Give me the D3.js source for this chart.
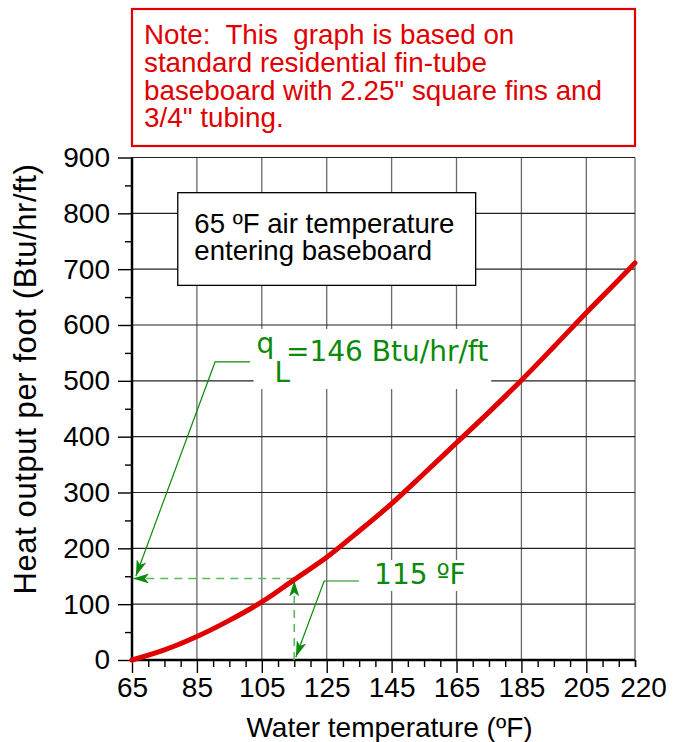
<!DOCTYPE html>
<html>
<head>
<meta charset="utf-8">
<script src="https://cdn.jsdelivr.net/npm/d3@7"></script>
<style>
body { margin: 0; background: #fff; }
svg { display: block; }
</style>
</head>
<body>
<div id="chart"></div>
<script>
// water temperature (F) vs heat output per foot (Btu/hr/ft)
var waterTemp  = [65, 75, 85, 95, 105, 115, 125, 135, 145, 155, 165, 175, 185, 195, 205, 215, 220];
var heatOutput = [0, 18, 42, 71, 104, 144, 184, 231, 280, 334, 389, 444, 501, 561, 622, 681, 711];

var xMajor = [65, 85, 105, 125, 145, 165, 185, 205];
var xLabels = [65, 85, 105, 125, 145, 165, 185, 205, 220];
var yTicks = [0, 100, 200, 300, 400, 500, 600, 700, 800, 900];

var noteLines = ["Note:  This  graph is based on",
                 "standard residential fin-tube",
                 "baseboard with 2.25\" square fins and",
                 "3/4\" tubing."];
var boxLines = ["65 \u00baF air temperature", "entering baseboard"];

var pickTemp = 115, pickQ = 146;

var width = 680, height = 742;
var margin = {top: 157.5, right: 45, bottom: 82, left: 132};

var svg = d3.select("#chart").append("svg")
  .attr("width", width)
  .attr("height", height);

var x = d3.scaleLinear().domain([65, 220]).range([margin.left, width - margin.right]);
var y = d3.scaleLinear().domain([0, 900]).range([height - margin.bottom, margin.top]);

var sans = "'Liberation Sans', Arial, Helvetica, sans-serif";
var green = "#0a8a0a";

// arrow heads
var defs = svg.append("defs");
defs.append("marker")
  .attr("id", "arr")
  .attr("viewBox", "0 0 16 10")
  .attr("refX", 16).attr("refY", 5)
  .attr("markerWidth", 16).attr("markerHeight", 10)
  .attr("markerUnits", "userSpaceOnUse")
  .attr("orient", "auto")
  .append("path").attr("d", "M0,0L16,5L0,10L4,5Z").attr("fill", green);

// grid
var grid = svg.append("g");
grid.selectAll("line.v")
  .data(xMajor.slice(1).concat([220]))
  .enter().append("line")
  .attr("x1", function(d) { return x(d); }).attr("x2", function(d) { return x(d); })
  .attr("y1", y(0)).attr("y2", y(900))
  .attr("stroke", "#6a6a6a").attr("stroke-width", 1.3);
grid.selectAll("line.h")
  .data(yTicks.slice(1))
  .enter().append("line")
  .attr("x1", x(65)).attr("x2", x(220))
  .attr("y1", function(d) { return y(d); }).attr("y2", function(d) { return y(d); })
  .attr("stroke", "#222").attr("stroke-width", 1.2);

// axes
var xAxis = d3.axisBottom(x).tickValues(xLabels).tickSize(13).tickFormat(d3.format("d"));
var gx = svg.append("g").attr("transform", "translate(0," + y(0) + ")").call(xAxis);
var xMinor = d3.axisBottom(x).tickValues(d3.range(70, 221, 5).filter(function(d) { return xMajor.indexOf(d) < 0; }))
  .tickSize(7).tickFormat("");
svg.append("g").attr("transform", "translate(0," + y(0) + ")").call(xMinor)
  .select(".domain").remove();

var yAxis = d3.axisLeft(y).tickValues(yTicks).tickSize(14).tickPadding(8);
var gy = svg.append("g").attr("transform", "translate(" + x(65) + ",0)").call(yAxis);
var yMinor = d3.axisLeft(y).tickValues(d3.range(50, 900, 100)).tickSize(7).tickFormat("");
svg.append("g").attr("transform", "translate(" + x(65) + ",0)").call(yMinor)
  .select(".domain").remove();

[gx, gy].forEach(function(g) {
  g.select(".domain").attr("stroke", "#000").attr("stroke-width", 2.5);
  g.selectAll(".tick text").attr("fill", "#000")
    .style("font-family", sans).style("font-size", "28px");
});
svg.selectAll(".tick line").attr("stroke", "#000").attr("stroke-width", 1.4);
gx.select(".domain").attr("d", "M" + x(65) + ",0H" + x(220));
gy.select(".domain").attr("d", "M0," + y(0) + "V" + y(900));
gx.selectAll(".tick text").attr("dy", "0.95em").attr("y", 10);
gy.selectAll(".tick text").attr("x", -22);
var last = gx.selectAll(".tick").filter(function(d) { return d == 220; });
last.select("line").attr("y2", 7);
last.select("text").attr("x", 8);

// axis titles
svg.append("text")
  .attr("x", (x(65) + x(220)) / 2 + 6)
  .attr("y", 737)
  .attr("text-anchor", "middle")
  .style("font-family", sans).style("font-size", "28px")
  .text("Water temperature (\u00baF)");

svg.append("text")
  .attr("transform", "translate(36,379) rotate(-90)")
  .attr("text-anchor", "middle")
  .style("font-family", sans).style("font-size", "31px")
  .style("letter-spacing", "0.6px")
  .text("Heat output per foot (Btu/hr/ft)");

// note box
svg.append("rect")
  .attr("x", x(65)).attr("y", 9)
  .attr("width", x(220) - x(65)).attr("height", 137)
  .attr("fill", "#fff").attr("stroke", "#e00000").attr("stroke-width", 2.2);
svg.append("g").selectAll("text")
  .data(noteLines).enter().append("text")
  .attr("x", 144)
  .attr("y", function(d, i) { return 44 + i * 27.8; })
  .attr("fill", "#e00000")
  .style("font-family", sans).style("font-size", "27.8px")
  .style("white-space", "pre")
  .text(function(d) { return d; });

// legend-like box
svg.append("rect")
  .attr("x", x(79.1)).attr("y", y(837))
  .attr("width", x(170.9) - x(79.1)).attr("height", y(671) - y(837))
  .attr("fill", "#fff").attr("stroke", "#000").attr("stroke-width", 1.3);
svg.append("g").selectAll("text")
  .data(boxLines).enter().append("text")
  .attr("x", x(84.2))
  .attr("y", function(d, i) { return 233 + i * 26.5; })
  .style("font-family", sans).style("font-size", "27.6px")
  .text(function(d) { return d; });

// dashed read-off lines
svg.append("line")
  .attr("x1", x(pickTemp)).attr("x2", x(65) + 1)
  .attr("y1", y(pickQ)).attr("y2", y(pickQ))
  .attr("stroke", "#5cb85c").attr("stroke-width", 1.6).attr("stroke-dasharray", "8,6")
  .attr("marker-end", "url(#arr)");
svg.append("line")
  .attr("x1", x(pickTemp)).attr("x2", x(pickTemp))
  .attr("y1", y(0)).attr("y2", y(pickQ) + 2)
  .attr("stroke", "#5cb85c").attr("stroke-width", 1.6).attr("stroke-dasharray", "8,6")
  .attr("marker-end", "url(#arr)");

// curve
var line = d3.line()
  .x(function(d) { return x(d[0]); })
  .y(function(d) { return y(d[1]); })
  .curve(d3.curveMonotoneX);
svg.append("path")
  .datum(d3.zip(waterTemp, heatOutput))
  .attr("d", line)
  .attr("fill", "none")
  .attr("stroke", "#e00000")
  .attr("stroke-width", 5)
  .attr("stroke-linecap", "round");

// leader lines (data units)
var leaders = [
  [[101.4, 533.8], [90.6, 533.8], [66.2, 150.5]],
  [[134.9, 141.5], [124.2, 141.5], [115.5, 5.4]]
];
svg.selectAll("path.leader")
  .data(leaders).enter().append("path")
  .attr("d", d3.line().x(function(d) { return x(d[0]); }).y(function(d) { return y(d[1]); }))
  .attr("fill", "none").attr("stroke", green).attr("stroke-width", 1.2)
  .attr("marker-end", "url(#arr)");

// green labels with white backing
var greenFont = "'DejaVu Sans', Verdana, sans-serif";
function backed(g) {
  var b = g.node().getBBox();
  g.insert("rect", ":first-child")
    .attr("x", b.x - 3).attr("y", b.y + 2)
    .attr("width", b.width + 6).attr("height", b.height - 2)
    .attr("fill", "#fff");
}
var qg = svg.append("g");
var qt = qg.append("text")
  .attr("x", x(103.4)).attr("y", y(549.9))
  .attr("fill", green)
  .style("font-family", greenFont).style("font-size", "28px");
qt.append("tspan").text("q");
qt.append("tspan").attr("dy", 29).attr("dx", 0).text("L");
qt.append("tspan").attr("dy", -21).attr("dx", -4).text("=146 Btu/hr/ft");
backed(qg);

var tg = svg.append("g");
tg.append("text")
  .attr("x", x(139.6)).attr("y", y(136))
  .attr("fill", green)
  .style("font-family", greenFont).style("font-size", "28px")
  .text("115 \u00baF");
backed(tg);
</script>
</body>
</html>
